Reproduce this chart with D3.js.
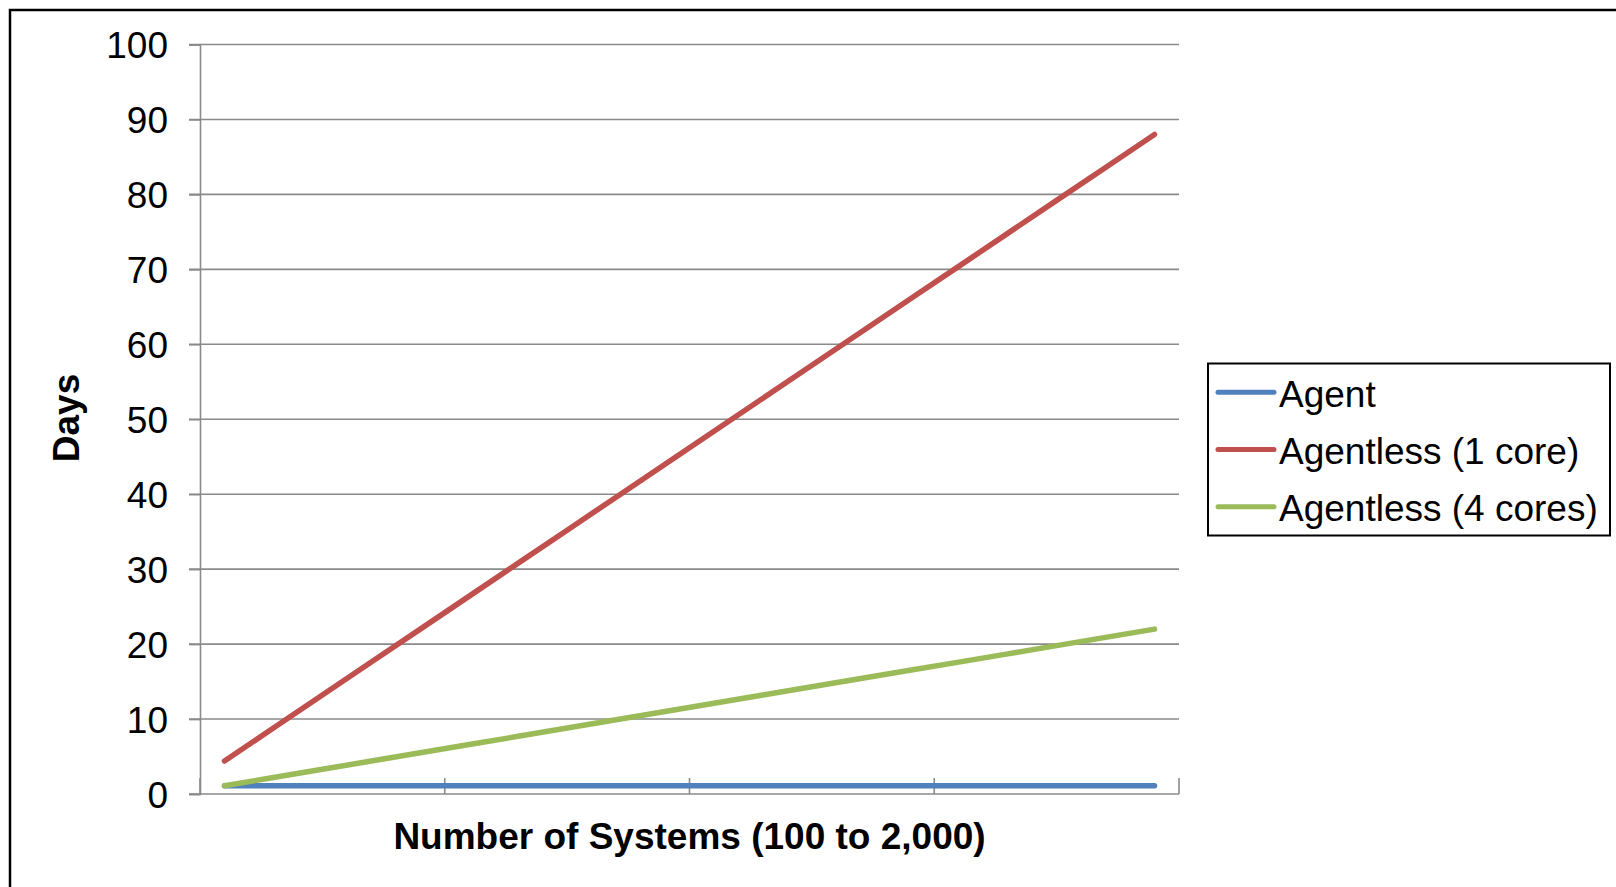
<!DOCTYPE html>
<html>
<head>
<meta charset="utf-8">
<script src="https://cdn.jsdelivr.net/npm/d3@7"></script>
<style>
  html, body { margin: 0; padding: 0; background: #fff; }
  svg { display: block; font-family: "Liberation Sans", Arial, Helvetica, sans-serif; }
</style>
</head>
<body>
<svg id="chart" width="1616" height="887"></svg>
<script>
// Number of systems (categories along the x axis)
const systems = [100, 200, 300, 400, 500, 600, 700, 800, 900, 1000,
                 1100, 1200, 1300, 1400, 1500, 1600, 1700, 1800, 1900, 2000];

// Days needed per approach
const agentDays = [1.1, 1.1, 1.1, 1.1, 1.1, 1.1, 1.1, 1.1, 1.1, 1.1,
                   1.1, 1.1, 1.1, 1.1, 1.1, 1.1, 1.1, 1.1, 1.1, 1.1];
const agentless1Days = [4.4, 8.8, 13.2, 17.6, 22, 26.4, 30.8, 35.2, 39.6, 44,
                        48.4, 52.8, 57.2, 61.6, 66, 70.4, 74.8, 79.2, 83.6, 88];
const agentless4Days = [1.1, 2.2, 3.3, 4.4, 5.5, 6.6, 7.7, 8.8, 9.9, 11,
                        12.1, 13.2, 14.3, 15.4, 16.5, 17.6, 18.7, 19.8, 20.9, 22];

const seriesNames = ["Agent", "Agentless (1 core)", "Agentless (4 cores)"];
const seriesColors = ["#4F81BD", "#C0504D", "#9BBB59"];
const yTicks = [0, 10, 20, 30, 40, 50, 60, 70, 80, 90, 100];

const series = [agentDays, agentless1Days, agentless4Days].map((vals, i) => ({
  name: seriesNames[i], color: seriesColors[i], values: vals
}));

const FONT = 37;
const svg = d3.select("#chart");

// outer chart frame
svg.append("rect")
  .attr("x", 10).attr("y", 10)
  .attr("width", 1640).attr("height", 920)
  .attr("fill", "none").attr("stroke", "#000").attr("stroke-width", 2.5);

const plot = { left: 200, right: 1179, top: 44.5, bottom: 794 };

const x = d3.scaleBand().domain(systems).range([plot.left, plot.right]).padding(0);
const y = d3.scaleLinear().domain([0, 100]).range([plot.bottom, plot.top]);

// horizontal gridlines with outward tick stubs
const grid = svg.append("g");
grid.selectAll("line").data(yTicks.filter(t => t > 0)).join("line")
  .attr("x1", plot.left - 11).attr("x2", plot.right)
  .attr("y1", d => y(d)).attr("y2", d => y(d))
  .attr("stroke", "#8a8a8a").attr("stroke-width", 1.6);

// y axis
const yAxis = d3.axisLeft(y).tickValues(yTicks).tickSize(11).tickPadding(21);
const gy = svg.append("g").attr("transform", `translate(${plot.left},0)`).call(yAxis);
gy.select(".domain").attr("stroke", "#8a8a8a").attr("stroke-width", 1.6);
gy.selectAll(".tick line").attr("stroke", "#8a8a8a").attr("stroke-width", 1.6);
gy.selectAll(".tick text")
  .attr("fill", "#000").attr("font-size", FONT)
  .attr("font-family", "'Liberation Sans', Arial, sans-serif")
  .attr("dy", "0.36em");

// x axis: tick marks every 5 categories at band edges, pointing up
const xEdges = [0, 5, 10, 15, 20];
const edgeX = d => d < systems.length ? x(systems[d]) : x(systems[systems.length - 1]) + x.bandwidth();
const gx = svg.append("g");
gx.append("line")
  .attr("x1", plot.left - 11).attr("x2", plot.right)
  .attr("y1", y(0)).attr("y2", y(0))
  .attr("stroke", "#8a8a8a").attr("stroke-width", 1.6);
gx.selectAll("line.tk").data(xEdges).join("line").attr("class", "tk")
  .attr("x1", edgeX).attr("x2", edgeX)
  .attr("y1", y(0) - 16).attr("y2", y(0))
  .attr("stroke", "#8a8a8a").attr("stroke-width", 1.6);

// series lines
const line = d3.line()
  .x((d, i) => x(systems[i]) + x.bandwidth() / 2)
  .y(d => y(d));

svg.append("g").selectAll("path").data(series).join("path")
  .attr("d", d => line(d.values))
  .attr("fill", "none")
  .attr("stroke", d => d.color)
  .attr("stroke-width", 5.5)
  .attr("stroke-linecap", "round")
  .attr("stroke-linejoin", "round");

// axis titles
svg.append("text")
  .attr("x", (plot.left + plot.right) / 2).attr("y", 849)
  .attr("text-anchor", "middle")
  .attr("font-size", FONT).attr("font-weight", "bold")
  .text("Number of Systems (100 to 2,000)");

svg.append("text")
  .attr("transform", "translate(79,418) rotate(-90)")
  .attr("text-anchor", "middle")
  .attr("font-size", FONT).attr("font-weight", "bold")
  .text("Days");

// legend
const legend = svg.append("g");
legend.append("rect")
  .attr("x", 1208).attr("y", 363.5)
  .attr("width", 402).attr("height", 172)
  .attr("fill", "#fff").attr("stroke", "#000").attr("stroke-width", 2);

const items = legend.selectAll("g.item").data(series).join("g").attr("class", "item")
  .attr("transform", (d, i) => `translate(0,${392.3 + i * 57.2})`);
items.append("line")
  .attr("x1", 1218).attr("x2", 1274).attr("y1", 0).attr("y2", 0)
  .attr("stroke", d => d.color).attr("stroke-width", 5).attr("stroke-linecap", "round");
items.append("text")
  .attr("x", 1279).attr("y", 14.4)
  .attr("font-size", FONT)
  .text(d => d.name);
</script>
</body>
</html>
